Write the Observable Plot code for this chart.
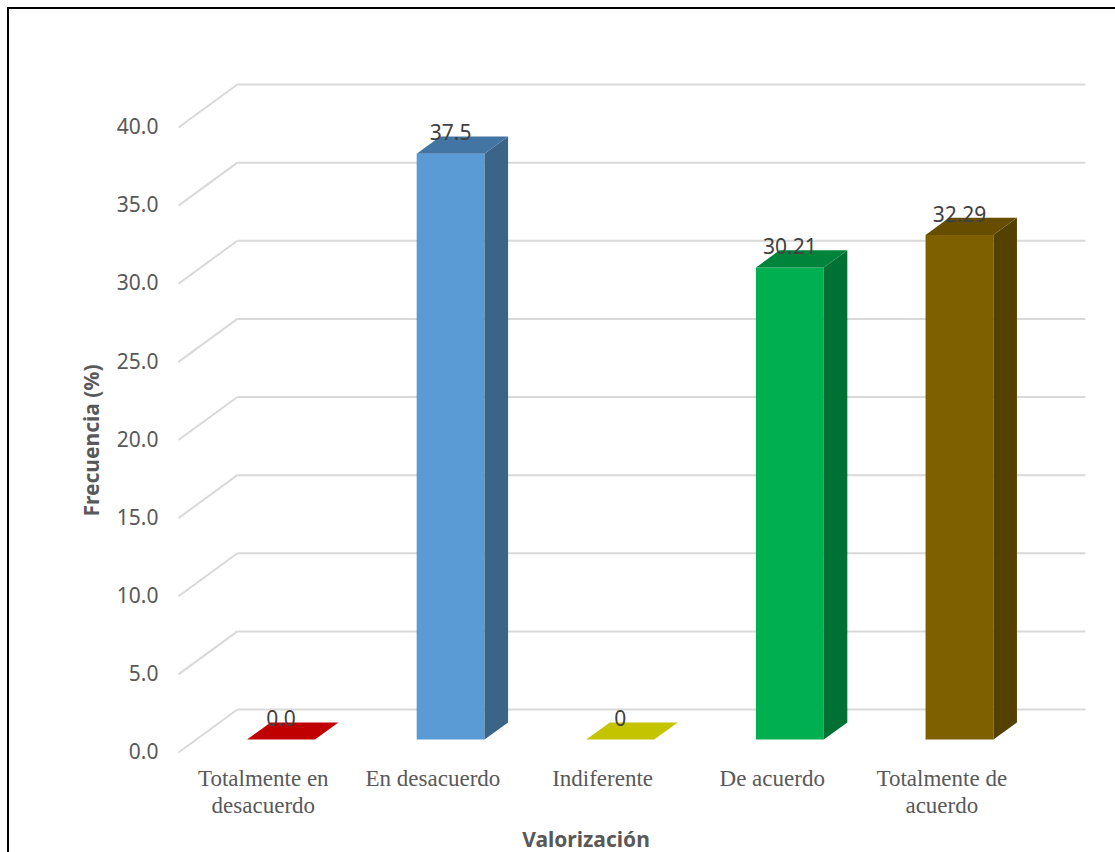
<!DOCTYPE html>
<html><head><meta charset="utf-8">
<script src="https://cdn.jsdelivr.net/npm/d3@7"></script>
<script src="https://cdn.jsdelivr.net/npm/@observablehq/plot@0.6"></script>
<style>
body{margin:0;background:#fff;overflow:hidden}
#chart{position:absolute;left:0;top:0}
#frame{position:absolute;left:7px;top:7px;width:1130px;height:870px;border-top:2px solid #000;border-left:2px solid #000;pointer-events:none}
</style>
</head><body><div id="chart"></div><div id="frame"></div>
<script>
const categories = ["Totalmente en\ndesacuerdo", "En desacuerdo", "Indiferente", "De acuerdo", "Totalmente de\nacuerdo"];
const values = [0, 37.5, 0, 30.21, 32.29];
const valueLabels = ["0.0", "37.5", "0", "30.21", "32.29"];
const yTicks = [0, 5, 10, 15, 20, 25, 30, 35, 40];
const yTickLabels = ["0.0", "5.0", "10.0", "15.0", "20.0", "25.0", "30.0", "35.0", "40.0"];
const frontColors = ["#C00000", "#5B9BD5", "#C4C400", "#00B050", "#7F6000"];
const sideColors  = ["#8A0000", "#3A6587", "#8C8C00", "#007033", "#544000"];
const topColors   = ["#C00000", "#4275A3", "#C4C400", "#00843C", "#664D00"];

// pseudo-3D geometry (in scale units)
const DX = 0.347;   // depth shift along x (band units)
const DY = 2.75;    // depth shift along y (value units)
const HW = 0.2;     // half bar width (band units)
const D0 = 0.30, D1 = 0.70; // bar front/back depth fractions
const n = categories.length;

const marks = [];
// gridlines: side wall diagonals + back wall horizontals
marks.push(Plot.link(yTicks, {x1: 0, y1: d => d, x2: DX, y2: d => d + DY, stroke: "#d9d9d9", strokeWidth: 2}));
marks.push(Plot.link(yTicks, {x1: DX, y1: d => d + DY, x2: n + DX, y2: d => d + DY, stroke: "#d9d9d9", strokeWidth: 2}));

values.forEach((v, i) => {
  const u0 = i + 0.5 - HW, u1 = i + 0.5 + HW;
  const front = [
    {x: u0 + D0 * DX, y: D0 * DY}, {x: u1 + D0 * DX, y: D0 * DY},
    {x: u1 + D0 * DX, y: v + D0 * DY}, {x: u0 + D0 * DX, y: v + D0 * DY}
  ];
  const side = [
    {x: u1 + D0 * DX, y: D0 * DY}, {x: u1 + D1 * DX, y: D1 * DY},
    {x: u1 + D1 * DX, y: v + D1 * DY}, {x: u1 + D0 * DX, y: v + D0 * DY}
  ];
  const top = [
    {x: u0 + D0 * DX, y: v + D0 * DY}, {x: u1 + D0 * DX, y: v + D0 * DY},
    {x: u1 + D1 * DX, y: v + D1 * DY}, {x: u0 + D1 * DX, y: v + D1 * DY}
  ];
  if (v > 0) {
    marks.push(Plot.line(front, {x: "x", y: "y", curve: "linear-closed", fill: frontColors[i], stroke: "none"}));
    marks.push(Plot.line(side, {x: "x", y: "y", curve: "linear-closed", fill: sideColors[i], stroke: "none"}));
  }
  marks.push(Plot.line(top, {x: "x", y: "y", curve: "linear-closed", fill: topColors[i], stroke: "none"}));
});

// value labels
marks.push(Plot.text(values, {
  x: (d, i) => i + 0.5 + D0 * DX, y: d => d + D1 * DY,
  text: (d, i) => valueLabels[i], lineAnchor: "bottom", dy: 4,
  fontSize: 21, fontFamily: "Noto Sans", fill: "#404040"
}));

// category labels
marks.push(Plot.text(categories, {
  x: (d, i) => i + 0.5, y: 0, text: d => d, lineAnchor: "top", dy: 14,
  fontSize: 23, lineHeight: 1.17, fontFamily: "Liberation Serif", fill: "#595959"
}));

// y axis
marks.push(Plot.axisY({
  ticks: yTicks, tickFormat: d => yTickLabels[yTicks.indexOf(d)],
  tickSize: 0, tickPadding: 20, fontSize: 21, fontFamily: "Noto Sans", color: "#595959", label: null
}));

// axis titles
marks.push(Plot.text(["Valorización"], {frameAnchor: "bottom", dx: -46, dy: 88, lineAnchor: "middle", fontSize: 21, fontWeight: "bold", fontFamily: "Noto Sans", fill: "#595959"}));
marks.push(Plot.text(["Frecuencia (%)"], {frameAnchor: "left", dx: -86, dy: 22, rotate: -90, lineAnchor: "middle", textAnchor: "middle", fontSize: 21, fontWeight: "bold", fontFamily: "Noto Sans", fill: "#595959"}));

const chart = Plot.plot({
  width: 1115, height: 852,
  marginLeft: 178, marginRight: 30, marginTop: 84, marginBottom: 100,
  x: {domain: [0, n + DX], axis: null},
  y: {domain: [0, 40 + DY], axis: null},
  style: {background: "#fff", overflow: "visible"},
  marks
});
document.getElementById("chart").appendChild(chart);
</script>
</body></html>
